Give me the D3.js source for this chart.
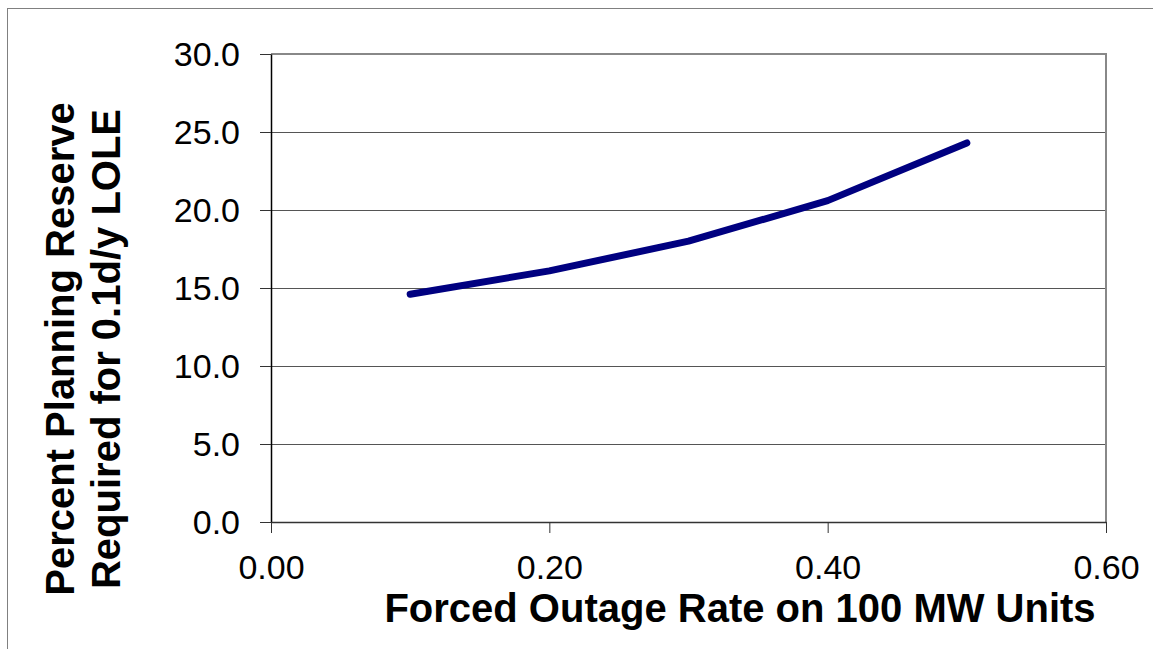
<!DOCTYPE html>
<html>
<head>
<meta charset="utf-8">
<script src="https://cdn.jsdelivr.net/npm/d3@7"></script>
<style>
  html, body { margin: 0; padding: 0; background: #fff; }
  svg { display: block; }
  text { font-family: "Liberation Sans", Arial, sans-serif; fill: #000; }
</style>
</head>
<body>
<svg id="chart" width="1153" height="649"></svg>
<script>
// Data
const forcedOutageRate = [0.10, 0.20, 0.30, 0.40, 0.50];
const planningReserve = [14.6, 16.1, 18.0, 20.6, 24.3];
const xTicks = [0.00, 0.20, 0.40, 0.60];
const yTicks = [0, 5, 10, 15, 20, 25, 30];
const xTitle = "Forced Outage Rate on 100 MW Units";
const yTitleLines = ["Percent Planning Reserve", "Required for 0.1d/y LOLE"];

const svg = d3.select("#chart");
const plot = { left: 271, right: 1106, top: 54, bottom: 522 };

// outer frame (extends past the window on right/bottom)
svg.append("rect")
  .attr("x", 7.5).attr("y", 8.5)
  .attr("width", 1200).attr("height", 700)
  .attr("fill", "none").attr("stroke", "#808080").attr("stroke-width", 1);

const x = d3.scaleLinear().domain([0, 0.6]).range([plot.left, plot.right]);
const y = d3.scaleLinear().domain([0, 30]).range([plot.bottom, plot.top]);

// gridlines
svg.append("g").selectAll("line")
  .data(yTicks.filter(d => d > 0 && d < 30))
  .join("line")
  .attr("x1", plot.left).attr("x2", plot.right)
  .attr("y1", d => Math.round(y(d)) + 0.5).attr("y2", d => Math.round(y(d)) + 0.5)
  .attr("stroke", "#555").attr("stroke-width", 1.2);

// plot border top/right (grey)
svg.append("path")
  .attr("d", `M${plot.left},${plot.top} H${plot.right} V${plot.bottom}`)
  .attr("fill", "none").attr("stroke", "#888").attr("stroke-width", 2);

// y axis
const yAxis = d3.axisLeft(y).tickValues(yTicks).tickFormat(d3.format(".1f"))
  .tickSizeOuter(0).tickSizeInner(11).tickPadding(20);
const gy = svg.append("g").attr("transform", `translate(${plot.left},0)`).call(yAxis);
gy.select(".domain").attr("stroke", "#000").attr("stroke-width", 1.5);
gy.selectAll(".tick line").attr("stroke", "#333").attr("stroke-width", 1);
gy.selectAll(".tick text").attr("font-size", 34).attr("font-family", "Liberation Sans, Arial, sans-serif")
  .attr("fill", "#000").attr("dy", "0.34em");

// x axis
const xAxis = d3.axisBottom(x).tickValues(xTicks).tickFormat(d3.format(".2f"))
  .tickSizeOuter(0).tickSizeInner(11).tickPadding(20);
const gx = svg.append("g").attr("transform", `translate(0,${plot.bottom})`).call(xAxis);
gx.select(".domain").attr("stroke", "#333").attr("stroke-width", 1.5);
gx.selectAll(".tick line").attr("stroke", "#333").attr("stroke-width", 1);
gx.selectAll(".tick text").attr("font-size", 34).attr("font-family", "Liberation Sans, Arial, sans-serif")
  .attr("fill", "#000").attr("dy", "0").attr("y", 57);

// line
const line = d3.line().x((d, i) => x(forcedOutageRate[i])).y(d => y(d));
svg.append("path")
  .datum(planningReserve)
  .attr("d", line)
  .attr("fill", "none")
  .attr("stroke", "#000080")
  .attr("stroke-width", 7)
  .attr("stroke-linecap", "round")
  .attr("stroke-linejoin", "round");

// x title
svg.append("text")
  .attr("x", 740).attr("y", 622)
  .attr("text-anchor", "middle")
  .attr("font-size", 40).attr("font-weight", "bold")
  .text(xTitle);

// y title
svg.append("text")
  .attr("transform", "translate(74,349) rotate(-90)")
  .attr("text-anchor", "middle")
  .attr("font-size", 40).attr("font-weight", "bold")
  .selectAll("tspan")
  .data(yTitleLines)
  .join("tspan")
  .attr("x", 0)
  .attr("dy", (d, i) => i === 0 ? 0 : 46)
  .text(d => d);
</script>
</body>
</html>
